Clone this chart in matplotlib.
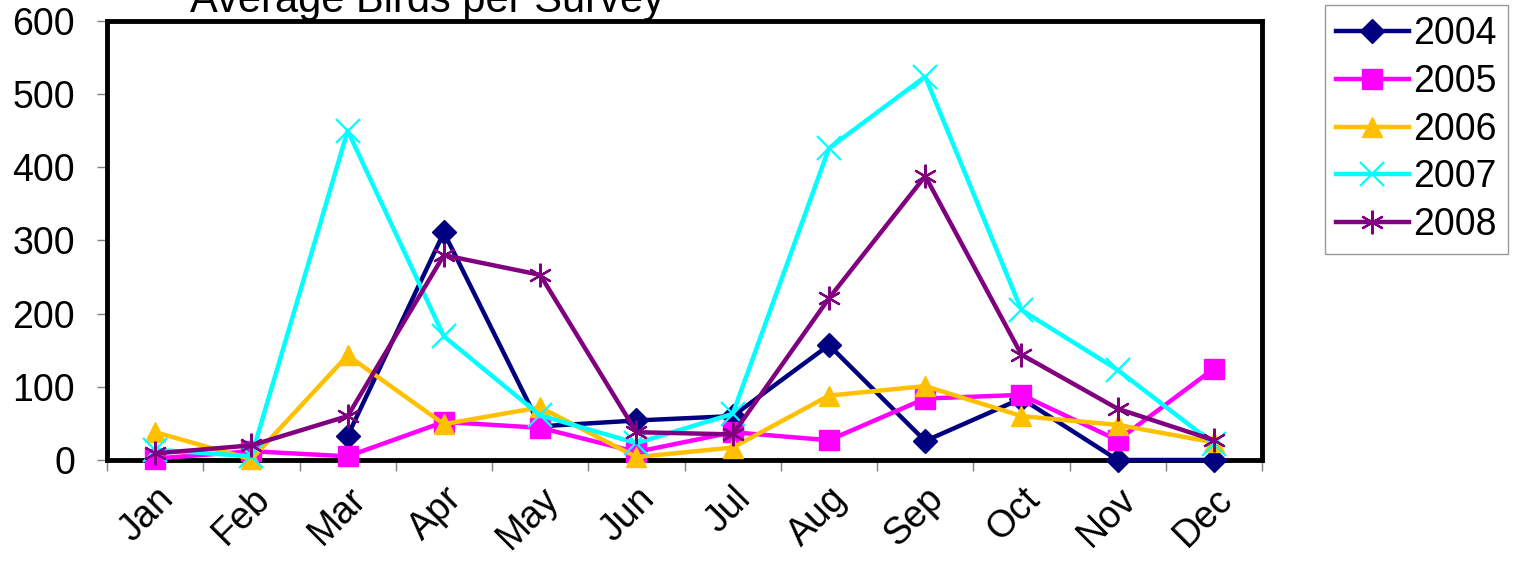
import matplotlib.pyplot as plt
import numpy as np

plt.rcParams['font.family'] = ['Liberation Sans', 'DejaVu Sans']

months = ["Jan", "Feb", "Mar", "Apr", "May", "Jun",
          "Jul", "Aug", "Sep", "Oct", "Nov", "Dec"]

# average birds per survey, one list per year (nan = no survey)
birds_2004 = [np.nan, np.nan, 33, 311, 46, 54, 60, 157, 26, 84, 0, 0]
birds_2005 = [2, 12, 5, 52, 44, 11, 38, 27, 84, 89, 27, 125]
birds_2006 = [38, 1, 143, 49, 72, 4, 17, 88, 101, 60, 48, 24]
birds_2007 = [14, 5, 450, 169, 61, 23, 63, 426, 524, 205, 123, 22]
birds_2008 = [9, 20, 60, 280, 253, 38, 35, 221, 388, 144, 70, 27]

years = ["2004", "2005", "2006", "2007", "2008"]
series = [birds_2004, birds_2005, birds_2006, birds_2007, birds_2008]
colors = ["#000080", "#FF00FF", "#FFC000", "#00FFFF", "#800080"]
markers = ["D", "s", "^", "x", (6, 2, 0)]
msizes = [12, 14, 15, 17, 17]
medges = [1, 1, 1, 1.6, 1.6]

fig = plt.figure(figsize=(15.26, 5.64), dpi=100)
ax = fig.add_axes([0.0701, 0.1844, 0.757, 0.7784])

x = np.arange(len(months)) + 0.5
for yr, vals, c, m, ms, mew in zip(years, series, colors, markers, msizes, medges):
    ax.plot(x, vals, color=c, linewidth=3.2, marker=m, markersize=ms,
            markerfacecolor=c, markeredgecolor=c, markeredgewidth=mew,
            label=yr, clip_on=False, zorder=3)

ax.set_xlim(0, 12)
ax.set_ylim(0, 600)
ax.set_yticks(np.arange(0, 601, 100))
ax.set_xticks(np.arange(0, 13), minor=False)
ax.set_xticklabels([])
ax.set_xticks(x, minor=True)
ax.set_xticklabels(months, minor=True, rotation=45, ha="right",
                   rotation_mode="anchor", fontsize=27)
ax.tick_params(axis="x", which="minor", length=0, pad=15)
ax.tick_params(axis="x", which="major", direction="out", length=8,
               width=1, color="#808080")
ax.tick_params(axis="y", direction="out", length=7, width=1,
               color="#808080", labelsize=27, pad=16)

for s in ax.spines.values():
    s.set_linewidth(3.5)
    s.set_color("black")

fig.text(0.1245, 0.979, "Average Birds per Survey", fontsize=30,
         ha="left", va="baseline")

leg = ax.legend(loc="upper left", bbox_to_anchor=(1.054, 1.036), fontsize=27,
                frameon=True, fancybox=False, edgecolor="#808080",
                handlelength=1.95, handletextpad=0.12, borderpad=0.3,
                labelspacing=0.31, borderaxespad=0)
leg.get_frame().set_linewidth(1)

fig.savefig("out.png", dpi=100)
